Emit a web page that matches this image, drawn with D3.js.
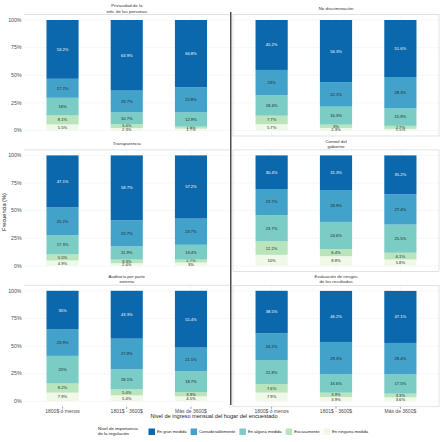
<!DOCTYPE html>
<html>
<head>
<meta charset="utf-8">
<script src="https://cdn.jsdelivr.net/npm/d3@7"></script>
<style>
  body { margin: 0; background: #fff; }
  svg { font-family: "Liberation Sans", Arial, sans-serif; }
</style>
</head>
<body>
<div id="chart"></div>
<script>
// categories
const incomes = ["1800$ ó menos", "1801$ - 3600$", "Más de 3600$"]
const levels = ["En gran medida", "Considerablemente", "En alguna medida", "Escasamente", "En ninguna medida"]
const colors = ["#0b68ad", "#43a2ca", "#7bccc4", "#bae4bc", "#f0f9e8"]
const aspects = [
    ["Privacidad de la", "info. de las personas"],
    ["No discriminación"],
    ["Transparencia"],
    ["Control del", "gobierno"],
    ["Auditoría por parte", "externa"],
    ["Evaluación de riesgos", "de los resultados"]
]
const yTicks = [0, 0.25, 0.5, 0.75, 1]

// % per income group, in the order of levels
const privacidad    = [[53.2, 17.2, 16, 8.1, 5.5], [63.9, 19.7, 10.7, 3.4, 2.3], [60.8, 22.8, 12.9, 1.8, 1.7]]
const noDiscrim     = [[45.2, 23, 18.4, 7.7, 5.7], [56.3, 22.1, 16.3, 3, 2.3], [51.6, 28.3, 15.9, 2.7, 1.5]]
const transparencia = [[47.1, 25.2, 17.3, 5.5, 4.9], [58.7, 23.7, 11.9, 3.3, 2.4], [57.2, 23.7, 13.4, 2.7, 3]]
const control       = [[30.4, 23.7, 23.7, 12.2, 10], [31.3, 28.9, 24.6, 6.4, 8.8], [35.2, 27.4, 25.5, 6.1, 5.8]]
const auditoria     = [[35, 23.9, 25, 8.2, 7.9], [43.3, 27.8, 18.1, 5.4, 5.4], [51.4, 21.5, 18.7, 3.9, 4.5]]
const evaluacion    = [[38.5, 24.2, 21.8, 7.6, 7.9], [46.2, 29.3, 16.6, 3.9, 3.9], [47.1, 28.4, 17.5, 3.3, 3.6]]
const panelValues = [privacidad, noDiscrim, transparencia, control, auditoria, evaluacion]

const width = 442
const height = 442

const svg = d3.select("#chart").append("svg")
    .attr("width", width)
    .attr("height", height)

const colX = [[24, 229.5], [233, 439]]
const rowTop = i => 20 + 135.4 * i   // y of 100%
const unitH = 110.5

const color = d3.scaleOrdinal().domain(levels).range(colors)

const stack = d3.stack().keys(levels.slice().reverse())

panelValues.forEach((vals, p) => {
    const col = p % 2
    const row = Math.floor(p / 2)
    const x = d3.scalePoint().domain(incomes).range(colX[col]).padding(0.6)
    const y = d3.scaleLinear().domain([0, 1]).range([rowTop(row) + unitH, rowTop(row)])
    const bw = x.step() * 0.5
    const top = y(1) - 5.5
    const bottom = y(0) + 5.5
    const g = svg.append("g")

    // grid
    g.selectAll("line.hgrid")
        .data(yTicks)
        .join("line")
        .attr("x1", colX[col][0]).attr("x2", colX[col][1])
        .attr("y1", d => y(d)).attr("y2", d => y(d))
        .attr("stroke", "#eeeeee").attr("stroke-width", 0.5)
    g.selectAll("line.vgrid")
        .data(incomes)
        .join("line")
        .attr("x1", d => x(d)).attr("x2", d => x(d))
        .attr("y1", top).attr("y2", bottom)
        .attr("stroke", "#eeeeee").attr("stroke-width", 0.5)

    // panel frame
    if (col === 1) {
        g.append("rect")
            .attr("x", colX[col][0]).attr("y", top)
            .attr("width", colX[col][1] - colX[col][0]).attr("height", bottom - top)
            .attr("fill", "none").attr("stroke", "#cfcfcf").attr("stroke-width", 0.6)
    } else {
        g.append("line")
            .attr("x1", colX[col][0]).attr("x2", colX[col][1])
            .attr("y1", top).attr("y2", top)
            .attr("stroke", "#cfcfcf").attr("stroke-width", 0.6)
    }

    // title strip
    const title = aspects[p]
    g.append("text")
        .attr("x", (colX[col][0] + colX[col][1]) / 2)
        .attr("y", y(1) - 11.5)
        .attr("text-anchor", "middle")
        .attr("font-size", 4.4)
        .attr("fill", "#333")
        .selectAll("tspan")
        .data(title)
        .join("tspan")
        .attr("x", (colX[col][0] + colX[col][1]) / 2)
        .attr("dy", (d, i) => i === 0 ? (title.length === 1 ? 1.5 : -1.2) : 5.2)
        .text(d => d)

    // data rows
    const rows = incomes.map((inc, i) => {
        const r = {income: inc}
        levels.forEach((l, j) => r[l] = vals[i][j] / 100)
        return r
    })
    const series = stack(rows)

    const layer = g.selectAll("g.layer")
        .data(series)
        .join("g")
        .attr("fill", d => color(d.key))

    layer.selectAll("rect")
        .data(d => d)
        .join("rect")
        .attr("x", d => x(d.data.income) - bw / 2)
        .attr("width", bw)
        .attr("y", d => y(d[1]))
        .attr("height", d => y(d[0]) - y(d[1]))

    layer.selectAll("text")
        .data(d => d.map(v => ({v, key: d.key})))
        .join("text")
        .attr("x", d => x(d.v.data.income))
        .attr("y", d => y((d.v[0] + d.v[1]) / 2) + 1.4)
        .attr("text-anchor", "middle")
        .attr("font-size", 4.1)
        .attr("fill", d => d.key === levels[0] ? "#ffffff" : "#222")
        .text(d => `${+(d.v.data[d.key] * 100).toFixed(1)}%`)

    // y axis on left column
    if (col === 0) {
        g.selectAll("text.ytick")
            .data(yTicks)
            .join("text")
            .attr("x", 21.5)
            .attr("y", d => y(d) + 1.8)
            .attr("text-anchor", "end")
            .attr("font-size", 5.2)
            .attr("fill", "#4d4d4d")
            .text(d => `${d * 100}%`)
    }

    // x axis on bottom row
    if (row === 2) {
        g.selectAll("line.xtick")
            .data(incomes)
            .join("line")
            .attr("x1", d => x(d)).attr("x2", d => x(d))
            .attr("y1", bottom).attr("y2", bottom + 2)
            .attr("stroke", "#444").attr("stroke-width", 0.5)
        g.selectAll("text.xtick")
            .data(incomes)
            .join("text")
            .attr("x", d => x(d))
            .attr("y", bottom + 5.8)
            .attr("text-anchor", "middle")
            .attr("font-size", 5)
            .attr("fill", "#4d4d4d")
            .text(d => d)
    }
})

// separator between columns
svg.append("line")
    .attr("x1", 230.8).attr("x2", 230.8)
    .attr("y1", 12).attr("y2", 405)
    .attr("stroke", "#222").attr("stroke-width", 1.2)

// axis titles
svg.append("text")
    .attr("x", 214).attr("y", 417.5)
    .attr("text-anchor", "middle")
    .attr("font-size", 5.6)
    .attr("fill", "#222")
    .text("Nivel de ingreso mensual del hogar del encuestado")

svg.append("text")
    .attr("transform", "translate(6,212) rotate(-90)")
    .attr("text-anchor", "middle")
    .attr("font-size", 5.6)
    .attr("fill", "#222")
    .text("Frecuencia (%)")

// legend
const legend = svg.append("g")
legend.append("text")
    .attr("x", 98).attr("y", 429.5)
    .attr("font-size", 4.4)
    .attr("fill", "#222")
    .selectAll("tspan")
    .data(["Nivel de importancia", "de la regulación"])
    .join("tspan")
    .attr("x", 98)
    .attr("dy", (d, i) => i === 0 ? 0 : 5.2)
    .text(d => d)

let lx = 148.5
levels.forEach((l, i) => {
    legend.append("rect")
        .attr("x", lx).attr("y", 428.5)
        .attr("width", 6.5).attr("height", 6.5)
        .attr("fill", color(l))
    const t = legend.append("text")
        .attr("x", lx + 8.5).attr("y", 433.3)
        .attr("font-size", 4.2)
        .attr("fill", "#222")
        .text(l)
    lx += 8.5 + t.node().getComputedTextLength() + 4
})
</script>
</body>
</html>
